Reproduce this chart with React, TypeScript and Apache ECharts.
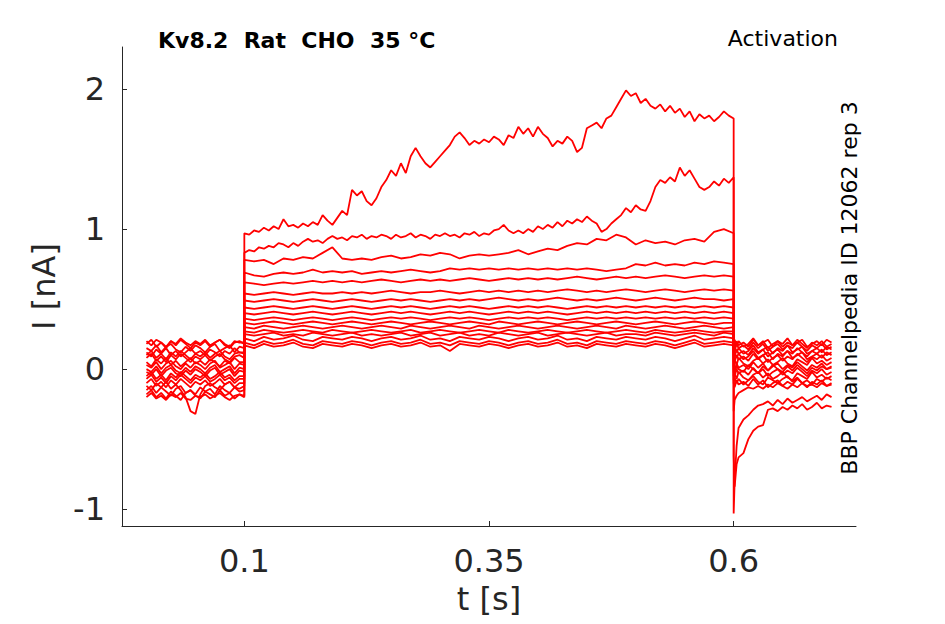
import * as echarts from "echarts";
import { useEffect, useRef } from "react";

// time points (s): holding, step (coarse and fine), tail
const preTimes = [
  0, 0.005, 0.01, 0.015, 0.02, 0.025, 0.03, 0.035, 0.04, 0.045,
  0.05, 0.055, 0.06, 0.065, 0.07, 0.075, 0.08, 0.085, 0.09, 0.095,
  0.1,
];
const stepTimes = [
  0.1, 0.11, 0.12, 0.13, 0.14, 0.15, 0.16, 0.17, 0.18, 0.19,
  0.2, 0.21, 0.22, 0.23, 0.24, 0.25, 0.26, 0.27, 0.28, 0.29,
  0.3, 0.31, 0.32, 0.33, 0.34, 0.35, 0.36, 0.37, 0.38, 0.39,
  0.4, 0.41, 0.42, 0.43, 0.44, 0.45, 0.46, 0.47, 0.48, 0.49,
  0.5, 0.51, 0.52, 0.53, 0.54, 0.55, 0.56, 0.57, 0.58, 0.59,
  0.6,
];
const fineStepTimes = [
  0.1, 0.105, 0.11, 0.115, 0.12, 0.125, 0.13, 0.135, 0.14, 0.145,
  0.15, 0.155, 0.16, 0.165, 0.17, 0.175, 0.18, 0.185, 0.19, 0.195,
  0.2, 0.205, 0.21, 0.215, 0.22, 0.225, 0.23, 0.235, 0.24, 0.245,
  0.25, 0.255, 0.26, 0.265, 0.27, 0.275, 0.28, 0.285, 0.29, 0.295,
  0.3, 0.305, 0.31, 0.315, 0.32, 0.325, 0.33, 0.335, 0.34, 0.345,
  0.35, 0.355, 0.36, 0.365, 0.37, 0.375, 0.38, 0.385, 0.39, 0.395,
  0.4, 0.405, 0.41, 0.415, 0.42, 0.425, 0.43, 0.435, 0.44, 0.445,
  0.45, 0.455, 0.46, 0.465, 0.47, 0.475, 0.48, 0.485, 0.49, 0.495,
  0.5, 0.505, 0.51, 0.515, 0.52, 0.525, 0.53, 0.535, 0.54, 0.545,
  0.55, 0.555, 0.56, 0.565, 0.57, 0.575, 0.58, 0.585, 0.59, 0.595,
  0.6,
];
const postTimes = [
  0.6, 0.601, 0.603, 0.605,
  0.61, 0.615, 0.62, 0.625, 0.63, 0.635, 0.64, 0.645, 0.65, 0.655,
  0.66, 0.665, 0.67, 0.675, 0.68, 0.685, 0.69, 0.695, 0.7,
];

const xTicks = [0.1, 0.35, 0.6];
const yTicks = [-1, 0, 1, 2];

// current traces (nA): values at preTimes, then step times, then postTimes
const traceA = [
  -0.15, -0.12, -0.17, -0.13, -0.16, -0.19, -0.14, -0.12, -0.17, -0.15,
  -0.18, -0.13, -0.16, -0.14, -0.18, -0.12, -0.15, -0.17, -0.13, -0.16,
  -0.15,
  0.97, 0.96, 0.99, 0.98, 1.01, 0.99, 1.02, 1.0, 1.07, 1.02,
  1.03, 1.01, 1.04, 1.02, 1.05, 1.03, 1.1, 1.06, 1.03, 1.08,
  1.13, 1.1, 1.28, 1.24, 1.27, 1.2, 1.17, 1.22, 1.3, 1.35,
  1.42, 1.38, 1.47, 1.4, 1.52, 1.58, 1.52, 1.47, 1.44, 1.48,
  1.52, 1.56, 1.6, 1.66, 1.69, 1.65, 1.6, 1.63, 1.61, 1.64,
  1.62, 1.66, 1.64, 1.6, 1.67, 1.65, 1.73, 1.68, 1.72, 1.66,
  1.73, 1.68, 1.65, 1.59, 1.63, 1.61, 1.66, 1.63, 1.55, 1.58,
  1.72, 1.74, 1.76, 1.72, 1.79, 1.81, 1.87, 1.93, 1.99, 1.95,
  1.97, 1.9, 1.93, 1.88, 1.86, 1.89, 1.84, 1.88, 1.83, 1.86,
  1.8, 1.84, 1.77, 1.82, 1.79, 1.81, 1.77, 1.8, 1.84, 1.81,
  1.79,
  -1.03, -0.8, -0.55, -0.42, -0.36, -0.33, -0.29, -0.26, -0.25, -0.23,
  -0.26, -0.22, -0.25, -0.21, -0.24, -0.22, -0.2, -0.23, -0.21, -0.19,
  -0.22, -0.18, -0.2,
];
const traceB = [
  0.18, 0.21, 0.16, 0.19, 0.15, 0.2, 0.17, 0.21, 0.18, 0.15,
  0.19, 0.17, 0.2, 0.16, 0.19, 0.21, 0.17, 0.15, 0.19, 0.2,
  0.18,
  0.83, 0.85, 0.84, 0.87, 0.86, 0.88, 0.87, 0.9, 0.89, 0.87,
  0.9, 0.88, 0.91, 0.93, 0.91, 0.92, 0.9, 0.93, 0.95, 0.93,
  0.94, 0.92, 0.95, 0.94, 0.96, 0.93, 0.95, 0.94, 0.96, 0.95,
  0.93, 0.96, 0.94, 0.95, 0.97, 0.94, 0.96, 0.95, 0.93, 0.96,
  0.95, 0.97, 0.95, 0.96, 0.94, 0.97, 0.96, 0.98, 0.95, 0.97,
  0.96, 0.99, 1.0, 1.03, 0.99, 0.97, 0.99, 0.97, 1.0, 0.98,
  1.02, 1.0, 1.03, 1.01, 1.05, 1.02, 1.06, 1.04, 1.07, 1.05,
  1.09, 1.06, 1.04, 0.98, 1.0, 1.04, 1.07, 1.1, 1.15, 1.12,
  1.17, 1.14, 1.13, 1.2, 1.3, 1.35, 1.33, 1.37, 1.34, 1.44,
  1.38, 1.42, 1.36, 1.3, 1.28, 1.3, 1.34, 1.31, 1.36, 1.33,
  1.37,
  -0.62, -0.84, -0.68, -0.63, -0.6, -0.5, -0.44, -0.41, -0.4, -0.29,
  -0.28, -0.3, -0.27, -0.29, -0.26, -0.28, -0.25, -0.29, -0.27, -0.24,
  -0.28, -0.26, -0.27,
];
const traceC = [
  -0.05, -0.02, -0.07, -0.04, -0.08, -0.03, -0.06, -0.02, -0.05, -0.08,
  -0.04, -0.06, -0.03, -0.07, -0.05, -0.02, -0.06, -0.04, -0.08, -0.05,
  -0.05,
  0.78, 0.77, 0.78, 0.75, 0.79, 0.78, 0.8, 0.79, 0.83, 0.87,
  0.79, 0.78, 0.79, 0.78, 0.8, 0.81, 0.79, 0.8, 0.82, 0.81,
  0.83, 0.82, 0.79, 0.81, 0.82, 0.81, 0.82, 0.83, 0.85, 0.82,
  0.84, 0.86, 0.85, 0.88, 0.9, 0.89, 0.93, 0.92, 0.96, 0.94,
  0.89, 0.92, 0.9, 0.91, 0.89, 0.92, 0.93, 0.91, 0.98, 1.0,
  0.97,
  -0.3, -0.22, -0.19, -0.17, -0.15, -0.13, -0.14, -0.12, -0.14, -0.11,
  -0.13, -0.1, -0.12, -0.14, -0.11, -0.13, -0.1, -0.12, -0.11, -0.13,
  -0.1, -0.12, -0.11,
];
const traceD = [
  0.1, 0.13, 0.08, 0.11, 0.07, 0.12, 0.09, 0.13, 0.1, 0.07,
  0.11, 0.09, 0.12, 0.08, 0.11, 0.13, 0.09, 0.07, 0.11, 0.12,
  0.11,
  0.69, 0.67, 0.66, 0.68, 0.69, 0.68, 0.69, 0.71, 0.69, 0.7,
  0.69, 0.7, 0.68, 0.69, 0.7, 0.69, 0.7, 0.71, 0.7, 0.69,
  0.7, 0.72, 0.71, 0.72, 0.71, 0.72, 0.71, 0.72, 0.71, 0.72,
  0.71, 0.72, 0.71, 0.72, 0.71, 0.72, 0.71, 0.7, 0.71, 0.72,
  0.75, 0.74, 0.76, 0.74, 0.75, 0.74, 0.76, 0.75, 0.77, 0.76,
  0.75,
  0.0, -0.03, 0.02, 0.0, -0.02, 0.03, 0.0, -0.03, 0.02, -0.01,
  0.03, 0.0, -0.02, 0.02, -0.01, 0.03, 0.0, -0.03, 0.01, -0.01,
  0.02, 0.0, 0.01,
];
const traceE = [
  -0.18, -0.15, -0.2, -0.17, -0.21, -0.16, -0.19, -0.22, -0.17, -0.15,
  -0.19, -0.21, -0.16, -0.18, -0.2, -0.15, -0.19, -0.17, -0.21, -0.18,
  -0.19,
  0.62, 0.61, 0.6, 0.61, 0.62, 0.61, 0.62, 0.63, 0.62, 0.63,
  0.62, 0.63, 0.62, 0.63, 0.64, 0.63, 0.62, 0.63, 0.64, 0.63,
  0.64, 0.63, 0.64, 0.65, 0.64, 0.63, 0.64, 0.65, 0.64, 0.65,
  0.64, 0.65, 0.64, 0.65, 0.66, 0.65, 0.64, 0.65, 0.66, 0.65,
  0.66, 0.65, 0.66, 0.67, 0.66, 0.65, 0.66, 0.67, 0.66, 0.67,
  0.66,
  -0.08, -0.06, -0.1, -0.07, -0.11, -0.08, -0.05, -0.09, -0.11, -0.06,
  -0.08, -0.1, -0.07, -0.05, -0.09, -0.06, -0.1, -0.08, -0.11, -0.07,
  -0.09, -0.06, -0.08,
];
const traceF = [
  0.05, 0.02, 0.07, 0.04, 0.08, 0.03, 0.06, 0.02, 0.05, 0.08,
  0.04, 0.06, 0.03, 0.07, 0.05, 0.02, 0.06, 0.04, 0.08, 0.05,
  0.05,
  0.54, 0.53, 0.54, 0.55, 0.54, 0.53, 0.54, 0.55, 0.54, 0.54,
  0.55, 0.54, 0.55, 0.54, 0.55, 0.56, 0.55, 0.54, 0.55, 0.55,
  0.56, 0.55, 0.54, 0.55, 0.56, 0.55, 0.56, 0.55, 0.56, 0.55,
  0.56, 0.55, 0.56, 0.57, 0.56, 0.55, 0.56, 0.55, 0.56, 0.57,
  0.56, 0.55, 0.56, 0.57, 0.56, 0.55, 0.56, 0.57, 0.56, 0.57,
  0.56,
  0.12, 0.09, 0.14, 0.11, 0.13, 0.1, 0.15, 0.11, 0.14, 0.09,
  0.12, 0.14, 0.1, 0.13, 0.11, 0.15, 0.12, 0.09, 0.13, 0.11,
  0.14, 0.1, 0.12,
];
const traceG = [
  0.15, 0.13, 0.17, 0.12, 0.16, 0.18, 0.14, 0.12, 0.16, 0.13,
  0.17, 0.15, 0.12, 0.16, 0.18, 0.13, 0.15, 0.17, 0.12, 0.16,
  0.15,
  0.49, 0.48, 0.49, 0.5, 0.49, 0.48, 0.49, 0.5, 0.49, 0.48,
  0.49, 0.5, 0.49, 0.48, 0.49, 0.5, 0.49, 0.5, 0.49, 0.48,
  0.49, 0.5, 0.49, 0.5, 0.49, 0.5, 0.51, 0.5, 0.49, 0.5,
  0.49, 0.5, 0.51, 0.5, 0.49, 0.5, 0.49, 0.5, 0.51, 0.5,
  0.49, 0.5, 0.51, 0.5, 0.49, 0.5, 0.51, 0.5, 0.5, 0.49,
  0.5,
  -0.05, -0.03, -0.07, -0.02, -0.06, -0.08, -0.04, -0.02, -0.06, -0.03,
  -0.07, -0.05, -0.02, -0.06, -0.08, -0.03, -0.05, -0.07, -0.02, -0.06,
  -0.04, -0.07, -0.05,
];
const traceH = [
  -0.1, -0.07, -0.12, -0.09, -0.13, -0.08, -0.11, -0.07, -0.1, -0.13,
  -0.09, -0.11, -0.08, -0.12, -0.1, -0.07, -0.11, -0.09, -0.13, -0.1,
  -0.1,
  0.44, 0.43, 0.44, 0.45, 0.44, 0.43, 0.44, 0.45, 0.44, 0.43,
  0.44, 0.45, 0.44, 0.43, 0.44, 0.45, 0.44, 0.45, 0.44, 0.43,
  0.44, 0.45, 0.44, 0.45, 0.44, 0.43, 0.44, 0.45, 0.44, 0.45,
  0.44, 0.45, 0.44, 0.43, 0.44, 0.45, 0.44, 0.45, 0.44, 0.45,
  0.44, 0.45, 0.44, 0.45, 0.44, 0.45, 0.44, 0.45, 0.44, 0.45,
  0.44,
  0.16, 0.13, 0.18, 0.15, 0.17, 0.14, 0.19, 0.15, 0.18, 0.13,
  0.16, 0.18, 0.14, 0.17, 0.15, 0.19, 0.16, 0.13, 0.17, 0.15,
  0.18, 0.14, 0.16,
];
const traceI = [
  0.0, -0.02, 0.02, -0.03, 0.01, 0.03, -0.01, -0.03, 0.01, -0.02,
  0.02, 0.0, -0.03, 0.01, 0.03, -0.02, 0.0, 0.02, -0.03, 0.01,
  0.0,
  0.4, 0.39, 0.4, 0.41, 0.4, 0.39, 0.4, 0.41, 0.4, 0.39,
  0.4, 0.41, 0.4, 0.39, 0.4, 0.41, 0.4, 0.41, 0.4, 0.39,
  0.4, 0.41, 0.4, 0.41, 0.4, 0.39, 0.4, 0.41, 0.4, 0.41,
  0.4, 0.41, 0.4, 0.39, 0.4, 0.41, 0.4, 0.41, 0.4, 0.41,
  0.4, 0.41, 0.4, 0.41, 0.4, 0.41, 0.4, 0.41, 0.4, 0.41,
  0.4,
  0.05, 0.07, 0.03, 0.08, 0.04, 0.02, 0.06, 0.08, 0.04, 0.07,
  0.03, 0.05, 0.08, 0.04, 0.02, 0.07, 0.05, 0.03, 0.08, 0.04,
  0.06, 0.03, 0.05,
];
const traceJ = [
  0.12, 0.09, 0.14, 0.11, 0.15, 0.1, 0.13, 0.09, 0.12, 0.15,
  0.11, 0.13, 0.1, 0.14, 0.12, 0.09, 0.13, 0.11, 0.15, 0.12,
  0.12,
  0.36, 0.35, 0.36, 0.37, 0.36, 0.35, 0.36, 0.37, 0.36, 0.35,
  0.36, 0.37, 0.36, 0.35, 0.36, 0.37, 0.36, 0.37, 0.36, 0.35,
  0.36, 0.37, 0.36, 0.37, 0.36, 0.35, 0.36, 0.37, 0.36, 0.37,
  0.36, 0.37, 0.36, 0.35, 0.36, 0.37, 0.36, 0.37, 0.36, 0.37,
  0.36, 0.37, 0.36, 0.37, 0.36, 0.37, 0.36, 0.37, 0.36, 0.37,
  0.36,
  -0.1, -0.13, -0.08, -0.11, -0.09, -0.12, -0.07, -0.11, -0.08, -0.13,
  -0.1, -0.08, -0.12, -0.09, -0.11, -0.07, -0.1, -0.13, -0.09, -0.11,
  -0.08, -0.12, -0.1,
];
const traceK = [
  -0.12, -0.15, -0.1, -0.13, -0.09, -0.14, -0.11, -0.15, -0.2, -0.3,
  -0.32, -0.18, -0.12, -0.1, -0.13, -0.15, -0.11, -0.09, -0.13, -0.14,
  -0.12,
  0.33, 0.32, 0.33, 0.34, 0.33, 0.32, 0.33, 0.34, 0.33, 0.32,
  0.33, 0.34, 0.33, 0.32, 0.33, 0.34, 0.33, 0.32, 0.33, 0.34,
  0.33, 0.32, 0.33, 0.34, 0.33, 0.32, 0.34, 0.33, 0.32, 0.33,
  0.34, 0.33, 0.32, 0.33, 0.34, 0.33, 0.32, 0.33, 0.34, 0.33,
  0.32, 0.33, 0.34, 0.33, 0.32, 0.33, 0.34, 0.33, 0.32, 0.33,
  0.33,
  0.19, 0.21, 0.17, 0.2, 0.16, 0.18, 0.22, 0.17, 0.19, 0.21,
  0.16, 0.2, 0.18, 0.22, 0.17, 0.19, 0.21, 0.16, 0.18, 0.2,
  0.17, 0.21, 0.19,
];
const traceL = [
  0.08, 0.11, 0.06, 0.09, 0.05, 0.1, 0.07, 0.11, 0.08, 0.05,
  0.09, 0.07, 0.1, 0.06, 0.09, 0.11, 0.07, 0.05, 0.09, 0.1,
  0.08,
  0.3, 0.29, 0.31, 0.3, 0.29, 0.3, 0.31, 0.3, 0.29, 0.3,
  0.31, 0.3, 0.29, 0.3, 0.31, 0.3, 0.29, 0.31, 0.3, 0.29,
  0.3, 0.31, 0.3, 0.29, 0.31, 0.3, 0.29, 0.3, 0.31, 0.3,
  0.29, 0.3, 0.31, 0.3, 0.29, 0.3, 0.31, 0.3, 0.29, 0.31,
  0.3, 0.29, 0.3, 0.31, 0.3, 0.29, 0.3, 0.31, 0.3, 0.29,
  0.3,
  0.08, 0.05, 0.1, 0.07, 0.09, 0.06, 0.11, 0.07, 0.1, 0.05,
  0.08, 0.1, 0.06, 0.09, 0.07, 0.11, 0.08, 0.05, 0.09, 0.07,
  0.1, 0.06, 0.08,
];
const traceM = [
  -0.02, -0.04, 0.0, -0.05, -0.01, 0.01, -0.03, -0.05, -0.01, -0.04,
  0.0, -0.02, -0.05, -0.01, 0.01, -0.04, -0.02, 0.0, -0.05, -0.01,
  -0.02,
  0.27, 0.26, 0.28, 0.27, 0.26, 0.27, 0.28, 0.27, 0.26, 0.28,
  0.27, 0.26, 0.27, 0.28, 0.27, 0.26, 0.27, 0.28, 0.26, 0.27,
  0.28, 0.27, 0.26, 0.27, 0.28, 0.27, 0.26, 0.28, 0.27, 0.26,
  0.27, 0.28, 0.27, 0.26, 0.27, 0.28, 0.27, 0.26, 0.27, 0.28,
  0.27, 0.26, 0.28, 0.27, 0.26, 0.27, 0.28, 0.27, 0.26, 0.27,
  0.27,
  -0.02, -0.05, 0.0, -0.03, -0.01, -0.04, 0.01, -0.03, 0.0, -0.05,
  -0.02, 0.0, -0.04, -0.01, -0.03, 0.01, -0.02, -0.05, -0.01, -0.03,
  0.0, -0.04, -0.02,
];
const traceN = [
  0.2, 0.17, 0.21, 0.19, 0.16, 0.2, 0.18, 0.22, 0.19, 0.17,
  0.2, 0.18, 0.21, 0.17, 0.19, 0.21, 0.18, 0.16, 0.2, 0.19,
  0.19,
  0.25, 0.24, 0.25, 0.26, 0.24, 0.25, 0.24, 0.26, 0.25, 0.24,
  0.25, 0.26, 0.24, 0.25, 0.24, 0.25, 0.26, 0.24, 0.25, 0.26,
  0.24, 0.25, 0.26, 0.24, 0.25, 0.24, 0.26, 0.25, 0.24, 0.25,
  0.26, 0.24, 0.25, 0.26, 0.25, 0.24, 0.25, 0.26, 0.24, 0.25,
  0.25, 0.24, 0.26, 0.25, 0.24, 0.25, 0.26, 0.25, 0.24, 0.26,
  0.25,
  0.14, 0.16, 0.12, 0.15, 0.11, 0.13, 0.17, 0.12, 0.14, 0.16,
  0.11, 0.15, 0.13, 0.17, 0.12, 0.14, 0.16, 0.11, 0.13, 0.15,
  0.12, 0.16, 0.14,
];
const traceO = [
  -0.07, -0.04, -0.09, -0.06, -0.1, -0.05, -0.08, -0.04, -0.07, -0.1,
  -0.06, -0.08, -0.05, -0.09, -0.07, -0.04, -0.08, -0.06, -0.1, -0.07,
  -0.07,
  0.22, 0.2, 0.23, 0.21, 0.22, 0.24, 0.21, 0.2, 0.23, 0.22,
  0.21, 0.23, 0.22, 0.2, 0.22, 0.23, 0.21, 0.22, 0.24, 0.21,
  0.22, 0.2, 0.23, 0.22, 0.21, 0.23, 0.22, 0.2, 0.22, 0.23,
  0.21, 0.22, 0.24, 0.21, 0.22, 0.2, 0.23, 0.22, 0.21, 0.23,
  0.22, 0.21, 0.23, 0.22, 0.2, 0.22, 0.24, 0.21, 0.22, 0.23,
  0.22,
  0.02, -0.01, 0.04, 0.01, 0.03, 0.0, 0.05, 0.01, 0.04, -0.01,
  0.02, 0.04, 0.0, 0.03, 0.01, 0.05, 0.02, -0.01, 0.03, 0.01,
  0.04, 0.0, 0.02,
];
const traceP = [
  0.03, 0.01, 0.05, 0.0, 0.04, 0.06, 0.02, 0.0, 0.04, 0.01,
  0.05, 0.03, 0.0, 0.04, 0.06, 0.01, 0.03, 0.05, 0.0, 0.04,
  0.03,
  0.19, 0.17, 0.2, 0.18, 0.19, 0.21, 0.18, 0.17, 0.2, 0.19,
  0.18, 0.2, 0.19, 0.17, 0.19, 0.2, 0.18, 0.19, 0.21, 0.18,
  0.19, 0.17, 0.2, 0.19, 0.18, 0.2, 0.19, 0.17, 0.19, 0.2,
  0.18, 0.19, 0.21, 0.18, 0.19, 0.17, 0.2, 0.19, 0.18, 0.2,
  0.19, 0.18, 0.2, 0.19, 0.17, 0.19, 0.21, 0.18, 0.19, 0.2,
  0.19,
  0.18, 0.15, 0.2, 0.17, 0.19, 0.16, 0.21, 0.17, 0.2, 0.15,
  0.18, 0.2, 0.16, 0.19, 0.17, 0.21, 0.18, 0.15, 0.19, 0.17,
  0.2, 0.16, 0.18,
];
const traceQ = [
  -0.2, -0.17, -0.21, -0.19, -0.22, -0.18, -0.2, -0.17, -0.21, -0.22,
  -0.19, -0.2, -0.18, -0.21, -0.19, -0.17, -0.2, -0.22, -0.19, -0.18,
  -0.2,
  0.17, 0.15, 0.18, 0.16, 0.17, 0.19, 0.16, 0.15, 0.18, 0.17,
  0.16, 0.18, 0.17, 0.15, 0.17, 0.18, 0.16, 0.17, 0.19, 0.16,
  0.17, 0.13, 0.18, 0.17, 0.16, 0.18, 0.17, 0.15, 0.17, 0.18,
  0.16, 0.17, 0.19, 0.16, 0.17, 0.15, 0.18, 0.17, 0.16, 0.18,
  0.17, 0.16, 0.18, 0.17, 0.15, 0.17, 0.19, 0.16, 0.17, 0.18,
  0.17,
  0.1, 0.12, 0.08, 0.11, 0.07, 0.09, 0.13, 0.08, 0.1, 0.12,
  0.07, 0.11, 0.09, 0.13, 0.08, 0.1, 0.12, 0.07, 0.09, 0.11,
  0.08, 0.12, 0.1,
];

const FONT = "DejaVu Sans";
const AXIS_COLOR = "#262626";

export default function App() {
  const chartRef = useRef<HTMLDivElement>(null);

  useEffect(() => {
    if (!chartRef.current) return;
    const chart = echarts.init(chartRef.current, null, { renderer: "svg" });

    const coarse = [...preTimes, ...stepTimes, ...postTimes];
    const fine = [...preTimes, ...fineStepTimes, ...postTimes];
    const traces = [
      traceA, traceB, traceC, traceD, traceE, traceF, traceG, traceH, traceI,
      traceJ, traceK, traceL, traceM, traceN, traceO, traceP, traceQ,
    ];

    chart.setOption({
      animation: false,
      backgroundColor: "#ffffff",
      textStyle: { fontFamily: FONT },
      grid: { left: 122, right: 89, top: 47, bottom: 98 },
      xAxis: {
        type: "value",
        min: -0.025,
        max: 0.725,
        name: "t [s]",
        nameLocation: "middle",
        nameGap: 57,
        nameTextStyle: { fontSize: 32, color: AXIS_COLOR, fontFamily: FONT },
        axisLine: { show: true, onZero: false, lineStyle: { color: AXIS_COLOR, width: 1 } },
        axisTick: { show: true, inside: true, length: 5, customValues: xTicks, lineStyle: { color: AXIS_COLOR } },
        axisLabel: { customValues: xTicks, fontSize: 32, color: AXIS_COLOR, margin: 19, fontFamily: FONT },
        splitLine: { show: false },
      },
      yAxis: {
        type: "value",
        min: -1.12,
        max: 2.3,
        name: "I [nA]",
        nameLocation: "middle",
        nameGap: 62,
        nameTextStyle: { fontSize: 32, color: AXIS_COLOR, fontFamily: FONT },
        axisLine: { show: true, onZero: false, lineStyle: { color: AXIS_COLOR, width: 1 } },
        axisTick: { show: true, inside: true, length: 5, customValues: yTicks, lineStyle: { color: AXIS_COLOR } },
        axisLabel: { customValues: yTicks, fontSize: 32, color: AXIS_COLOR, margin: 17, fontFamily: FONT },
        splitLine: { show: false },
      },
      graphic: [
        {
          type: "text",
          x: 158,
          y: 40,
          style: {
            text: "Kv8.2  Rat  CHO  35 °C",
            fontSize: 22,
            fontWeight: "bold",
            fontFamily: FONT,
            fill: "#000000",
            verticalAlign: "middle",
          },
        },
        {
          type: "text",
          x: 838,
          y: 38,
          style: {
            text: "Activation",
            fontSize: 22,
            fontFamily: FONT,
            fill: "#000000",
            align: "right",
            verticalAlign: "middle",
          },
        },
        {
          type: "text",
          x: 849,
          y: 288,
          rotation: Math.PI / 2,
          style: {
            text: "BBP Channelpedia ID 12062 rep 3",
            fontSize: 22,
            fontFamily: FONT,
            fill: "#000000",
            align: "center",
            verticalAlign: "middle",
          },
        },
      ],
      series: traces.map((values) => {
        const times = values.length === fine.length ? fine : coarse;
        return {
          type: "line",
          data: times.map((t, i) => [t, values[i]]),
          showSymbol: false,
          silent: true,
          lineStyle: { color: "#ff0000", width: 1.8 },
          itemStyle: { color: "#ff0000" },
        };
      }),
    });

    return () => chart.dispose();
  }, []);

  return (
    <div
      ref={chartRef}
      style={{ position: "fixed", left: 0, top: 0, width: 945, height: 624 }}
    />
  );
}
